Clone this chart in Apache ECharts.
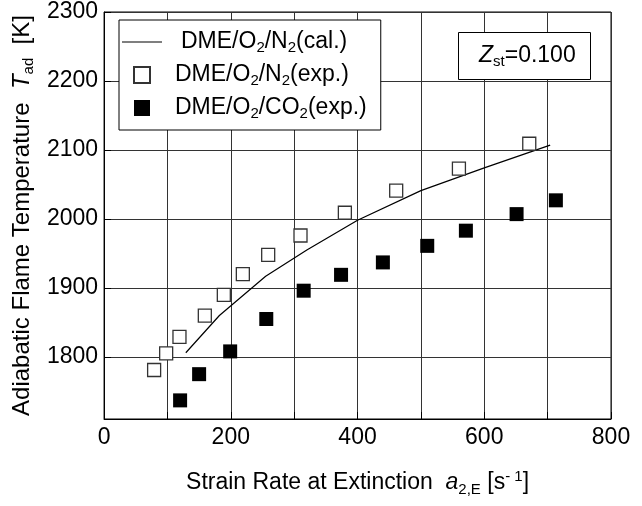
<!DOCTYPE html>
<html>
<head>
<meta charset="utf-8">
<style>
	html,body{margin:0;padding:0;background:#fff;}
	#main{width:642px;height:506px;}
</style>
<script src="https://cdn.jsdelivr.net/npm/echarts@6.0.0/dist/echarts.min.js"></script>
</head>
<body>
<div id="main"></div>
<script>
// 计算值 DME/O2/N2(cal.)
var calX=[129,182,255,320,400,500,600,704];
var calY=[1806,1860,1917,1955,1998,2041,2074,2107];
// 实验值 DME/O2/N2(exp.)
var n2X=[79,98,119,159,189,219,259,310,380,461,560,671];
var n2Y=[1781,1805,1829,1860,1890,1920,1948,1976,2009,2041,2073,2109];
// 实验值 DME/O2/CO2(exp.)
var co2X=[120,150,199,256,315,374,440,510,571,651,713];
var co2Y=[1737,1775,1808,1855,1896,1919,1937,1961,1983,2007,2027];
var xLabels=[0,200,400,600,800];
var yLabels=[1800,1900,2000,2100,2200,2300];
var names=["DME/O2/N2(cal.)","DME/O2/N2(exp.)","DME/O2/CO2(exp.)"];
var richNames={
	"DME/O2/N2(cal.)":"DME/O{s|2}/N{s|2}(cal.)",
	"DME/O2/N2(exp.)":"DME/O{s|2}/N{s|2}(exp.)",
	"DME/O2/CO2(exp.)":"DME/O{s|2}/CO{s|2}(exp.)"
};
function JPairs(xs,ys){
	var r=[];
	for(var i=0;i<xs.length;i++){
		r[r.length]=[xs[i],ys[i]];
	}
	return r;
}
var FONT="Liberation Sans";
var sub={fontSize:15,fontFamily:FONT,color:"#000",lineHeight:14,verticalAlign:"bottom"};
var sup={fontSize:15,fontFamily:FONT,color:"#000",lineHeight:14,verticalAlign:"top"};
var ita={fontSize:23,fontFamily:FONT,color:"#000",fontStyle:"italic"};
var ICON_LINE="path://M0,0L40,0L40,1.2L0,1.2Z";
var ICON_RECT="path://M0,0L16,0L16,16L0,16Z";
var opt={
	animation:false,
	grid:{left:104,right:31,top:12,bottom:87,show:true,borderColor:"#000",borderWidth:1},
	title:{
		text:"{i|Z}{s|st}=0.100",
		left:458,top:32,
		padding:[11,15,11,21],
		borderColor:"#000",borderWidth:1,backgroundColor:"#fff",
		textStyle:{fontSize:23,fontFamily:FONT,fontWeight:"normal",color:"#000",lineHeight:26,
			rich:{i:{fontSize:23,fontFamily:FONT,color:"#000",fontStyle:"italic"},s:sub}}
	},
	legend:{
		data:[
			{name:names[0],icon:ICON_LINE,textStyle:{padding:[0,0,0,14]}},
			{name:names[1],icon:ICON_RECT,textStyle:{padding:[0,0,0,8]}},
			{name:names[2],icon:ICON_RECT,textStyle:{padding:[0,0,0,8]}}
		],
		orient:"vertical",
		left:119,top:20,
		padding:[9,14,9,3],
		itemGap:7,
		itemWidth:40,itemHeight:16,
		symbolKeepAspect:true,
		selectedMode:false,
		borderColor:"#000",borderWidth:1,backgroundColor:"#fff",
		formatter:function(name){
			return richNames[name];
		},
		textStyle:{fontSize:23,fontFamily:FONT,color:"#000",lineHeight:26,rich:{s:sub}}
	},
	xAxis:{
		type:"value",min:0,max:800,interval:100,
		name:"Strain Rate at Extinction  {i|a}{s|2,E} [s{p|- 1}]",
		nameLocation:"middle",nameGap:50,
		nameTextStyle:{fontSize:23,fontFamily:FONT,color:"#000",lineHeight:28,rich:{i:ita,s:sub,p:sup}},
		axisLine:{lineStyle:{color:"#000",width:1}},
		axisTick:{inside:true,length:7,lineStyle:{color:"#000"}},
		splitLine:{lineStyle:{color:"#333",width:1}},
		axisLabel:{fontSize:23,fontFamily:FONT,color:"#000",margin:7,
			formatter:function(v){
				return xLabels.indexOf(v)>=0?String(v):"";
			}}
	},
	yAxis:{
		type:"value",min:1710,max:2300,splitNumber:5,
		name:"Adiabatic Flame Temperature  {i|T}{s|ad}  [K]",
		nameLocation:"middle",nameGap:65,
		nameTextStyle:{fontSize:24,fontFamily:FONT,color:"#000",lineHeight:28,
			rich:{i:{fontSize:24,fontFamily:FONT,color:"#000",fontStyle:"italic"},s:sub}},
		axisLine:{lineStyle:{color:"#000",width:1}},
		axisTick:{inside:true,length:7,lineStyle:{color:"#000"}},
		splitLine:{lineStyle:{color:"#333",width:1}},
		axisLabel:{fontSize:23,fontFamily:FONT,color:"#000",margin:6,showMinLabel:false,
			formatter:function(v){
				return yLabels.indexOf(v)>=0?String(v):"";
			}}
	},
	series:[
		{
			name:names[0],type:"line",data:JPairs(calX,calY),
			symbol:"none",lineStyle:{color:"#000",width:1.2},itemStyle:{color:"#000"},z:3
		},
		{
			name:names[1],type:"scatter",data:JPairs(n2X,n2Y),
			symbol:"rect",symbolSize:13,
			itemStyle:{color:"#fff",borderColor:"#333",borderWidth:1.3,opacity:1},z:4
		},
		{
			name:names[2],type:"scatter",data:JPairs(co2X,co2Y),
			symbol:"rect",symbolSize:14,
			itemStyle:{color:"#000",opacity:1},z:4
		}
	]
};
echarts.init(document.getElementById("main"),null,{renderer:"canvas"}).setOption(opt);
</script>
</body>
</html>
